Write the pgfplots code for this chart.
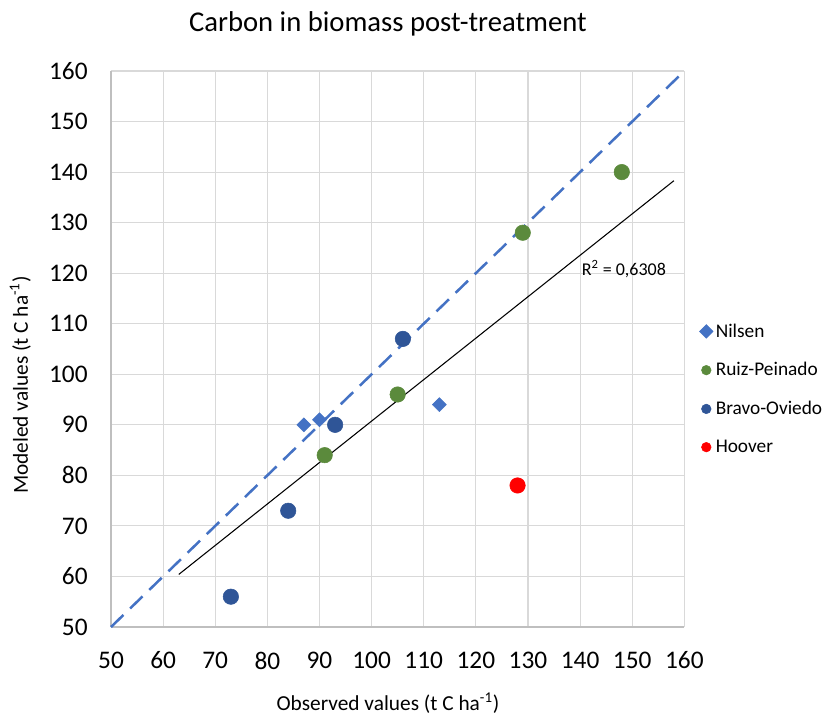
\documentclass[border=0pt]{standalone}
\usepackage{fontspec}
\setmainfont{Carlito}
\usepackage{pgfplots}
\pgfplotsset{compat=1.18}
\definecolor{nilsen}{HTML}{4472C4}
\definecolor{ruiz}{HTML}{5B8A3C}
\definecolor{bravo}{HTML}{2F5597}
\definecolor{gridc}{HTML}{D9D9D9}
\definecolor{axisc}{HTML}{BFBFBF}
\begin{document}
\begin{tikzpicture}
\begin{axis}[
    scale only axis,
    width=430pt, height=417pt,
    xmin=50, xmax=160, ymin=50, ymax=160,
    xtick distance=10, ytick distance=10,
    grid=major,
    major grid style={gridc, line width=0.8pt},
    axis x line*=bottom, axis y line*=left,
    axis line style={axisc, line width=1.2pt},
    x axis line style={-}, y axis line style={-},
    tick style={draw=none},
    /pgf/number format/assume math mode=true,
    ticklabel style={font=\fontsize{19}{22}\selectfont},
    xticklabel style={yshift=-15pt},
    yticklabel style={xshift=-14pt},
    title={Carbon in biomass post-treatment},
    title style={font=\fontsize{21.5}{25}\selectfont, at={(rel axis cs:0.483,1)}, anchor=center, yshift=29pt},
    xlabel={Observed values (t C ha\textsuperscript{-1})},
    ylabel={Modeled values (t C ha\textsuperscript{-1})},
    xlabel style={font=\fontsize{16}{19}\selectfont, at={(rel axis cs:0.483,0)}, anchor=center, yshift=-57pt},
    ylabel style={font=\fontsize{16}{19}\selectfont, at={(rel axis cs:0,0.435)}, anchor=center, rotate=0, yshift=68pt},
    legend style={draw=none, fill=none, at={(rel axis cs:1.026,0.428)}, anchor=west,
        font=\fontsize{14.5}{17}\selectfont, row sep=13.5pt, inner xsep=0pt},
    legend cell align=left,
    legend image code/.code={\draw[#1, mark size=3.6pt] plot coordinates {(0.13cm,0cm)};},
    clip=false,
]
\addplot[only marks, mark=square*, mark size=3.7pt, mark options={rotate=45}, color=nilsen] coordinates {
    (87,90) (90,91) (113,94)
};
\addlegendentry{Nilsen}
\addplot[only marks, mark=*, mark size=5.8pt, color=ruiz] coordinates {
    (91,84) (105,96) (129,128) (148,140)
};
\addlegendentry{Ruiz-Peinado}
\addplot[only marks, mark=*, mark size=5.8pt, color=bravo] coordinates {
    (73,56) (84,73) (93,90) (106,107)
};
\addlegendentry{Bravo-Oviedo}
\addplot[only marks, mark=*, mark size=5.8pt, color=red] coordinates {
    (128,78)
};
\addlegendentry{Hoover}
\addplot[nilsen, line width=1.9pt, dash pattern=on 13pt off 7pt, forget plot] coordinates {
    (50,50) (160,160)
};
\addplot[black, line width=0.8pt, forget plot] coordinates {
    (63,60.4) (158,138.3)
};
\node[anchor=west, font=\fontsize{13.5}{16}\selectfont, inner sep=0pt] at (axis cs:140.3,120.8) {R\textsuperscript{2} = 0,6308};
\end{axis}
\pgfresetboundingbox
\path (-83.25pt,-66pt) rectangle (539.25pt,470.25pt);
\end{tikzpicture}
\end{document}
